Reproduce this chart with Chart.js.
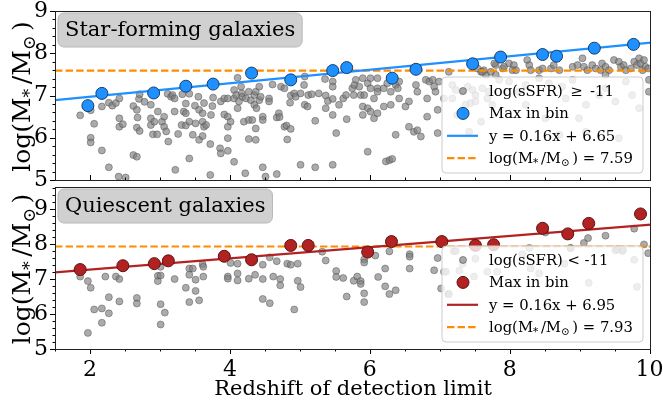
<!DOCTYPE html>
<html>
<head>
<meta charset="utf-8">
<script src="https://cdn.jsdelivr.net/npm/chart.js@4.4.1/dist/chart.umd.min.js"></script>
<style>
  html, body { margin: 0; padding: 0; background: #fff; }
  #wrap { position: relative; width: 663px; height: 405px; }
  #bot { position: absolute; left: 0; top: 180px; }
  #top { position: absolute; left: 0; top: 0; }
</style>
</head>
<body>
<div id="wrap">
  <canvas id="bot" width="663" height="225"></canvas>
  <canvas id="top" width="663" height="200"></canvas>
</div>
<script>
// ---- data: [redshift limit, log stellar mass] ----
const sfPoints = [
  [1.86,6.53],[2.01,6.65],[2.06,6.33],[2.01,6.00],[2.01,5.89],[2.17,5.70],[2.27,5.30],[2.17,6.74],[2.27,6.83],[2.32,6.76],
  [2.37,6.82],[2.42,6.93],[2.42,6.46],[2.42,6.26],[2.47,6.32],[2.41,5.08],[2.51,5.06],[2.62,5.59],[2.67,5.55],[2.62,6.75],
  [2.67,6.66],[2.68,6.48],[2.70,6.92],[2.71,7.03],[2.78,6.85],[2.67,6.24],[2.71,6.16],[2.87,6.78],[2.87,6.46],[2.87,6.30],
  [2.92,6.38],[2.90,6.08],[2.96,6.08],[2.97,6.62],[3.03,6.38],[3.06,6.50],[3.06,6.26],[3.09,6.15],[3.11,7.04],[3.16,6.97],
  [3.18,7.01],[3.21,6.93],[3.12,5.91],[3.21,6.62],[3.22,5.24],[3.26,6.09],[3.32,7.03],[3.34,6.62],[3.31,6.30],[3.37,6.81],
  [3.37,6.58],[3.42,7.04],[3.37,6.29],[3.42,6.38],[3.42,5.51],[3.47,6.07],[3.50,6.76],[3.51,6.34],[3.55,6.97],[3.56,6.66],
  [3.61,6.58],[3.61,6.38],[3.63,6.26],[3.56,5.95],[3.61,6.04],[3.63,6.82],
  [3.66,6.30],[3.72,5.85],[3.73,6.54],[3.72,5.12],[3.75,6.75],[3.76,6.95],[3.86,5.75],[3.87,5.63],[3.87,6.86],[3.92,6.93],
  [3.92,6.55],[3.97,6.50],[3.97,6.93],[3.97,6.26],[3.97,5.99],[3.97,5.69],[4.01,6.38],[4.06,7.13],[4.06,6.93],[4.06,5.43],
  [4.09,7.01],[4.11,7.42],[4.11,6.70],[4.13,6.86],[4.16,7.21],[4.17,7.05],[4.18,6.97],[4.20,6.38],[4.22,5.16],[4.23,6.93],
  [4.27,7.09],[4.27,6.42],[4.27,5.97],[4.30,6.89],[4.32,6.42],[4.35,7.01],[4.35,6.78],[4.37,7.09],[4.37,6.22],[4.37,5.95],
  [4.38,6.70],[4.42,7.21],[4.42,6.89],[4.44,6.97],[4.47,6.50],[4.47,6.42],[4.47,5.30],[4.51,5.08],[4.56,6.93],[4.56,6.86],
  [4.61,7.26],[4.67,5.14],[4.67,6.48],[4.70,6.58],[4.71,6.49],[4.73,7.21],[4.78,7.17],[4.78,6.26],[4.81,6.29],[4.82,5.96],
  [4.86,6.83],[4.87,6.21],[4.87,7.00],[4.92,7.05],[4.94,6.97],[5.01,5.36],[5.01,7.05],[5.06,7.25],[5.07,7.45],[5.07,6.78],
  [5.11,6.74],[5.12,7.01],[5.17,7.03],[5.22,6.40],[5.22,5.30],[5.27,7.05],[5.36,7.39],[5.37,7.00],[5.37,6.70],[5.40,6.87],
  [5.47,7.33],[5.47,7.21],[5.47,6.92],[5.47,6.54],[5.47,5.36],[5.52,6.11],[5.56,6.78],[5.62,6.93],[5.66,7.01],[5.67,6.44],
  [5.75,7.17],[5.78,7.25],[5.77,7.01],
  [5.80,7.37],[5.85,7.21],[5.90,7.41],[5.97,7.29],[6.01,7.41],[6.01,7.17],[6.11,7.41],[6.11,7.17],[6.11,7.09],[6.20,7.17],
  [6.25,7.29],[6.30,7.09],[6.37,7.25],[6.40,7.17],[6.42,7.33],[5.87,7.01],[5.92,7.01],[5.90,6.74],[5.97,6.70],[6.01,6.62],
  [6.06,6.46],[6.11,6.58],[5.90,6.54],[6.06,6.93],[6.20,6.74],[6.30,6.78],[6.42,6.93],[6.51,6.74],[6.56,6.86],[6.68,7.09],
  [6.66,7.25],[6.80,7.37],[6.85,7.33],[6.90,7.37],[6.92,7.21],[6.82,6.93],[6.94,7.09],[6.99,7.33],[6.97,6.66],[6.82,6.50],
  [6.56,6.26],[6.63,6.14],[6.68,6.18],[6.73,6.03],[6.37,6.07],[6.97,6.11],[5.97,5.67],[6.23,5.44],[6.28,5.47],[6.32,5.50],
  [7.06,6.93],[7.18,7.25],[7.23,7.13],[7.32,7.09],[7.40,7.21],[7.47,7.13],[7.51,7.01],[7.61,7.17],[7.68,6.93],[7.70,7.09],
  [7.37,6.78],[7.18,6.93],[7.44,6.82],[7.51,6.86],[7.75,6.78],[7.25,6.54],[7.59,6.38],[7.42,6.14],[7.80,7.49],[7.85,7.37],
  [7.66,7.49],[7.13,7.56],[7.59,7.56],[7.63,7.60],[7.73,7.56],[7.80,7.72],[7.90,7.64],[7.54,7.64],[7.61,7.56],[7.78,7.76],
  [7.92,7.68],
  [7.99,7.76],[8.06,7.72],[8.04,7.60],[8.09,7.60],[8.25,7.84],[8.28,7.72],[8.30,7.60],[8.42,7.60],[8.47,7.64],[8.59,7.64],
  [8.63,7.72],[8.71,7.60],[8.90,7.68],[8.97,7.72],[9.04,7.88],[9.06,7.68],[9.11,7.60],[9.18,7.72],[9.23,7.64],[9.30,7.60],
  [9.32,7.76],[9.37,7.68],[9.42,7.60],[9.49,7.84],[9.56,7.80],[9.59,7.68],[9.63,7.72],[9.66,7.60],[9.73,7.64],[9.78,7.80],
  [9.82,7.72],[9.85,7.88],[9.87,7.76],[9.90,7.60],[9.92,7.84],[9.94,7.68],[9.98,7.64],[9.99,7.09],[9.99,7.37],
  [7.99,7.33],[8.13,7.09],[8.23,7.25],[8.42,7.41],[8.56,7.29],[8.75,7.21],[8.90,7.37],[9.09,6.78],[9.28,7.01],[9.37,7.17],
  [9.51,6.86],[9.66,7.33],[9.75,7.01],[9.85,6.70],[9.09,6.14],[9.37,7.49],[8.23,6.78],[8.51,6.46],[8.80,6.93],[8.99,6.46],
  [9.56,5.99],[8.71,6.07]
];
const sfMax = [
  [1.97,6.76],[2.17,7.05],[2.91,7.06],[3.37,7.22],[3.76,7.27],[4.31,7.53],[4.87,7.37],[5.47,7.59],[5.67,7.66],
  [6.32,7.41],[6.66,7.62],[7.47,7.75],[7.87,7.91],[8.47,7.97],[8.67,7.93],[9.21,8.12],[9.77,8.21]
];
const qPoints = [
  [1.86,7.07],[1.97,6.94],[2.01,6.75],[2.06,6.13],[1.97,5.46],[2.17,6.16],[2.17,5.75],[2.22,7.07],[2.27,6.48],[2.27,6.02],
  [2.37,7.07],[2.42,7.00],[2.42,6.36],[2.67,6.46],[2.67,6.30],[2.97,7.09],[2.97,6.94],[3.01,7.35],[3.01,7.10],[3.01,6.28],
  [3.07,6.04],[3.01,5.70],[3.21,7.00],[3.37,6.75],[3.42,7.30],[3.42,7.12],[3.42,6.34],[3.47,7.30],[3.51,6.98],[3.51,6.66],
  [3.56,6.39],[3.61,7.42],[3.62,7.35],[3.62,7.07],[3.97,7.07],[3.97,7.01],[4.01,7.46],[4.11,7.44],[4.11,7.16],[4.11,6.96],
  [4.27,7.01],[4.36,7.12],
  [4.47,7.41],[4.47,7.00],[4.47,6.43],[4.57,7.62],[4.57,6.31],[4.62,7.07],[4.67,7.51],[4.72,7.00],[4.72,6.82],[4.82,7.44],
  [4.87,7.41],[4.92,6.13],[4.97,7.44],[4.97,6.95],[5.01,6.77],[5.32,7.78],[5.37,7.53],[5.52,7.23],[5.52,7.06],[5.62,7.03],
  [5.67,6.50],[5.77,6.95],[5.82,7.07],[5.87,6.94],[5.87,6.86],[5.92,7.56],[5.92,7.47],[5.92,6.59],[5.92,6.34],[6.08,7.67],
  [6.12,7.06],[6.22,7.30],[6.22,6.79],[6.28,7.79],[6.28,6.57],[6.37,6.68],[6.57,7.71],[6.57,7.64],[6.57,7.30],[6.92,7.25],
  [6.97,7.60],[7.02,6.73],[7.06,7.21],[7.12,6.57],[7.20,7.80],
  [7.23,7.80],[8.28,7.89],[8.51,8.33],[8.87,7.88],[9.06,8.03],[9.12,8.17],[9.37,8.24],[9.51,7.82],[9.61,7.80],[9.78,8.44],
  [9.92,7.99],[9.98,7.74],
  [7.09,7.21],[7.13,6.57],[7.28,7.24],[7.33,7.44],[7.51,7.58],[7.49,7.07],[7.68,7.21],[7.82,7.21],[8.18,7.71],[8.30,7.30],
  [8.42,7.16],[8.78,7.44],[8.87,7.89],[9.54,7.85],[9.62,7.83],[9.78,7.55],[9.82,6.78],[9.13,6.89]
];
const qMax = [
  [1.86,7.27],[2.47,7.38],[2.92,7.44],[3.12,7.52],[3.92,7.65],[4.31,7.55],[4.87,7.96],[5.12,7.96],[5.97,7.77],
  [6.31,8.07],[7.03,8.07],[7.51,7.96],[7.77,7.98],[8.47,8.45],[8.83,8.29],[9.13,8.59],[9.87,8.86]
];
// linear fits [slope, intercept] and mass completeness limits
const sfFit = [0.16, 6.65];
const qFit = [0.16, 6.95];
const sfLimit = 7.59;
const qLimit = 7.93;
const zRange = [1.5, 10.02];

const FONT = 'DejaVu Serif';
Chart.defaults.font.family = FONT;
Chart.defaults.color = '#000';

const GREY = 'rgba(128,128,128,0.66)';
const GREY_EDGE = 'rgba(70,70,70,0.55)';

const xy = pts => pts.map(p => ({ x: p[0], y: p[1] }));
const fitLine = f => zRange.map(z => ({ x: z, y: f[0] * z + f[1] }));
const hLine = v => zRange.map(z => ({ x: z, y: v }));

const MASS = [{ t: 'log(M' }, { t: '*', sub: true }, { t: '/M' }, { t: '\u2299', sub: true }, { t: ')' }];

// text with subscripts, y is the baseline
function drawRich(ctx, segs, x, y, size, center) {
  const parts = segs.map(s => {
    const sz = s.sub ? size * 0.7 : size;
    ctx.font = sz + 'px "' + FONT + '"';
    return { t: s.t, sz, sub: s.sub, w: ctx.measureText(s.t).width + (s.sub ? size * 0.18 : 0) };
  });
  const total = parts.reduce((acc, p) => acc + p.w, 0);
  let cx = center ? x - total / 2 : x;
  ctx.textAlign = 'left';
  ctx.textBaseline = 'alphabetic';
  parts.forEach(p => {
    ctx.font = p.sz + 'px "' + FONT + '"';
    ctx.fillText(p.t, cx, y + (p.sub ? size * 0.2 : 0));
    cx += p.w;
  });
}

function rrect(ctx, x, y, w, h, r) {
  ctx.beginPath();
  ctx.moveTo(x + r, y);
  ctx.arcTo(x + w, y, x + w, y + h, r);
  ctx.arcTo(x + w, y + h, x, y + h, r);
  ctx.arcTo(x, y + h, x, y, r);
  ctx.arcTo(x, y, x + w, y, r);
  ctx.closePath();
}

// frame, minor ticks, panel tag, legend and axis titles
const panelDecor = {
  id: 'panel',
  afterDraw(chart, args, o) {
    const { ctx, chartArea: a } = chart;
    const xs = chart.scales.x, ys = chart.scales.y;
    ctx.save();
    ctx.strokeStyle = '#000';
    ctx.lineWidth = 1;
    const seg = (x1, y1, x2, y2) => { ctx.beginPath(); ctx.moveTo(x1, y1); ctx.lineTo(x2, y2); ctx.stroke(); };

    for (let i = Math.ceil(ys.min * 5 - 1e-6); i <= ys.max * 5 + 1e-6; i++) {
      const py = Math.round(ys.getPixelForValue(i / 5)) + 0.5;
      seg(a.left, py, a.left - (i % 5 === 0 ? 5 : 2.5), py);
    }
    const dir = o.ticksUp ? -1 : 1;
    for (let i = Math.ceil(xs.min * 2 - 1e-6); i <= xs.max * 2 + 1e-6; i++) {
      const px = Math.round(xs.getPixelForValue(i / 2)) + 0.5;
      seg(px, a.bottom, px, a.bottom + dir * (i % 4 === 0 ? 5 : 2.5));
    }

    ctx.strokeStyle = '#222';
    ctx.strokeRect(a.left + 0.5, a.top + 0.5, a.right - a.left - 1, a.bottom - a.top);

    // panel tag
    ctx.font = '21px "' + FONT + '"';
    const tw = ctx.measureText(o.tag).width;
    rrect(ctx, a.left + 3, a.top + 2, tw + 14, 34, 6);
    ctx.fillStyle = 'rgba(205,205,205,0.95)';
    ctx.fill();
    ctx.strokeStyle = '#b8b8b8';
    ctx.stroke();
    ctx.fillStyle = '#000';
    ctx.textBaseline = 'alphabetic';
    ctx.textAlign = 'left';
    ctx.fillText(o.tag, a.left + 10, a.top + 25);

    // legend
    const w = 201, h = 96, x0 = a.right - 8 - w, y0 = a.bottom - 7 - h;
    rrect(ctx, x0, y0, w, h, 4);
    ctx.fillStyle = 'rgba(255,255,255,0.8)';
    ctx.fill();
    ctx.strokeStyle = '#cccccc';
    ctx.stroke();
    o.legend.forEach((r, i) => {
      const cy = y0 + 14 + i * 22.4;
      if (r.dot) {
        ctx.beginPath();
        ctx.arc(x0 + 21, cy, r.dot, 0, Math.PI * 2);
        ctx.fillStyle = r.color;
        ctx.fill();
        ctx.lineWidth = 1;
        ctx.strokeStyle = r.edge;
        ctx.stroke();
      } else {
        ctx.setLineDash(r.dash ? [7.4, 3.2] : []);
        ctx.lineWidth = 2.2;
        ctx.strokeStyle = r.color;
        seg(x0 + 5, cy, x0 + 36, cy);
        ctx.setLineDash([]);
      }
      ctx.fillStyle = '#000';
      drawRich(ctx, r.text, x0 + 47, cy + 5, 14.8, false);
    });

    // y title
    ctx.save();
    ctx.translate(30, (a.top + a.bottom) / 2 + 1);
    ctx.rotate(-Math.PI / 2);
    ctx.fillStyle = '#000';
    drawRich(ctx, MASS, 0, 0, 25, true);
    ctx.restore();

    if (o.xTitle) {
      ctx.font = '21px "' + FONT + '"';
      ctx.textAlign = 'center';
      ctx.textBaseline = 'alphabetic';
      ctx.fillStyle = '#000';
      ctx.fillText(o.xTitle, (a.left + a.right) / 2, a.bottom + 46);
    }
    ctx.restore();
  }
};

function panel(id, pts, maxPts, fit, limit, color, edge, yMax, opts) {
  return new Chart(document.getElementById(id), {
    type: 'scatter',
    data: {
      datasets: [
        { data: xy(maxPts), backgroundColor: color, borderColor: edge, borderWidth: 1, pointRadius: 6, order: 0 },
        { data: fitLine(fit), showLine: true, borderColor: color, borderWidth: 2.2, pointRadius: 0, order: 1 },
        { data: hLine(limit), showLine: true, borderColor: '#FF8C00', borderWidth: 2.2, borderDash: [7.4, 3.2], pointRadius: 0, order: 2 },
        { data: xy(pts), backgroundColor: GREY, borderColor: GREY_EDGE, borderWidth: 0.8, pointRadius: 3.5, order: 3 }
      ]
    },
    options: {
      responsive: false,
      animation: false,
      events: [],
      layout: { padding: opts.padding },
      plugins: { legend: { display: false }, tooltip: { enabled: false }, panel: opts.panel },
      scales: {
        x: {
          type: 'linear', min: zRange[0], max: zRange[1], display: opts.showX,
          grid: { display: false, drawTicks: false }, border: { display: false },
          ticks: { stepSize: 2, includeBounds: false, padding: 8, font: { size: 22 }, maxRotation: 0 },
          afterFit(s) {
            if (opts.showX) s.height = 56;
            s.paddingLeft = 0;
            s.paddingRight = 0;
          }
        },
        y: {
          min: 5, max: yMax,
          grid: { display: false, drawTicks: false }, border: { display: false },
          ticks: { stepSize: 1, includeBounds: false, padding: 7, font: { size: 22 } },
          afterFit(s) {
            s.width = 55;
            s.paddingTop = 0;
            s.paddingBottom = 0;
          }
        }
      }
    },
    plugins: [panelDecor]
  });
}

panel('top', sfPoints, sfMax, sfFit, sfLimit, '#1E90FF', '#163e6a', 9, {
  showX: false,
  padding: { top: 11, bottom: 20, left: 0, right: 12 },
  panel: {
    tag: 'Star-forming galaxies', ticksUp: true,
    legend: [
      { dot: 3.5, color: GREY, edge: GREY_EDGE, text: [{ t: 'log(sSFR)\u2002\u2265\u2002-11' }] },
      { dot: 6, color: '#1E90FF', edge: '#163e6a', text: [{ t: 'Max in bin' }] },
      { color: '#1E90FF', text: [{ t: 'y = ' + sfFit[0].toFixed(2) + 'x + ' + sfFit[1].toFixed(2) }] },
      { color: '#FF8C00', dash: true, text: MASS.concat([{ t: ' = ' + sfLimit.toFixed(2) }]) }
    ]
  }
});

panel('bot', qPoints, qMax, qFit, qLimit, '#B22222', '#5a1212', 9.63, {
  showX: true,
  padding: { top: 0, bottom: 0, left: 0, right: 12 },
  panel: {
    tag: 'Quiescent galaxies', ticksUp: false, xTitle: 'Redshift of detection limit',
    legend: [
      { dot: 3.5, color: GREY, edge: GREY_EDGE, text: [{ t: 'log(sSFR) < -11' }] },
      { dot: 6, color: '#B22222', edge: '#5a1212', text: [{ t: 'Max in bin' }] },
      { color: '#B22222', text: [{ t: 'y = ' + qFit[0].toFixed(2) + 'x + ' + qFit[1].toFixed(2) }] },
      { color: '#FF8C00', dash: true, text: MASS.concat([{ t: ' = ' + qLimit.toFixed(2) }]) }
    ]
  }
});
</script>
</body>
</html>
